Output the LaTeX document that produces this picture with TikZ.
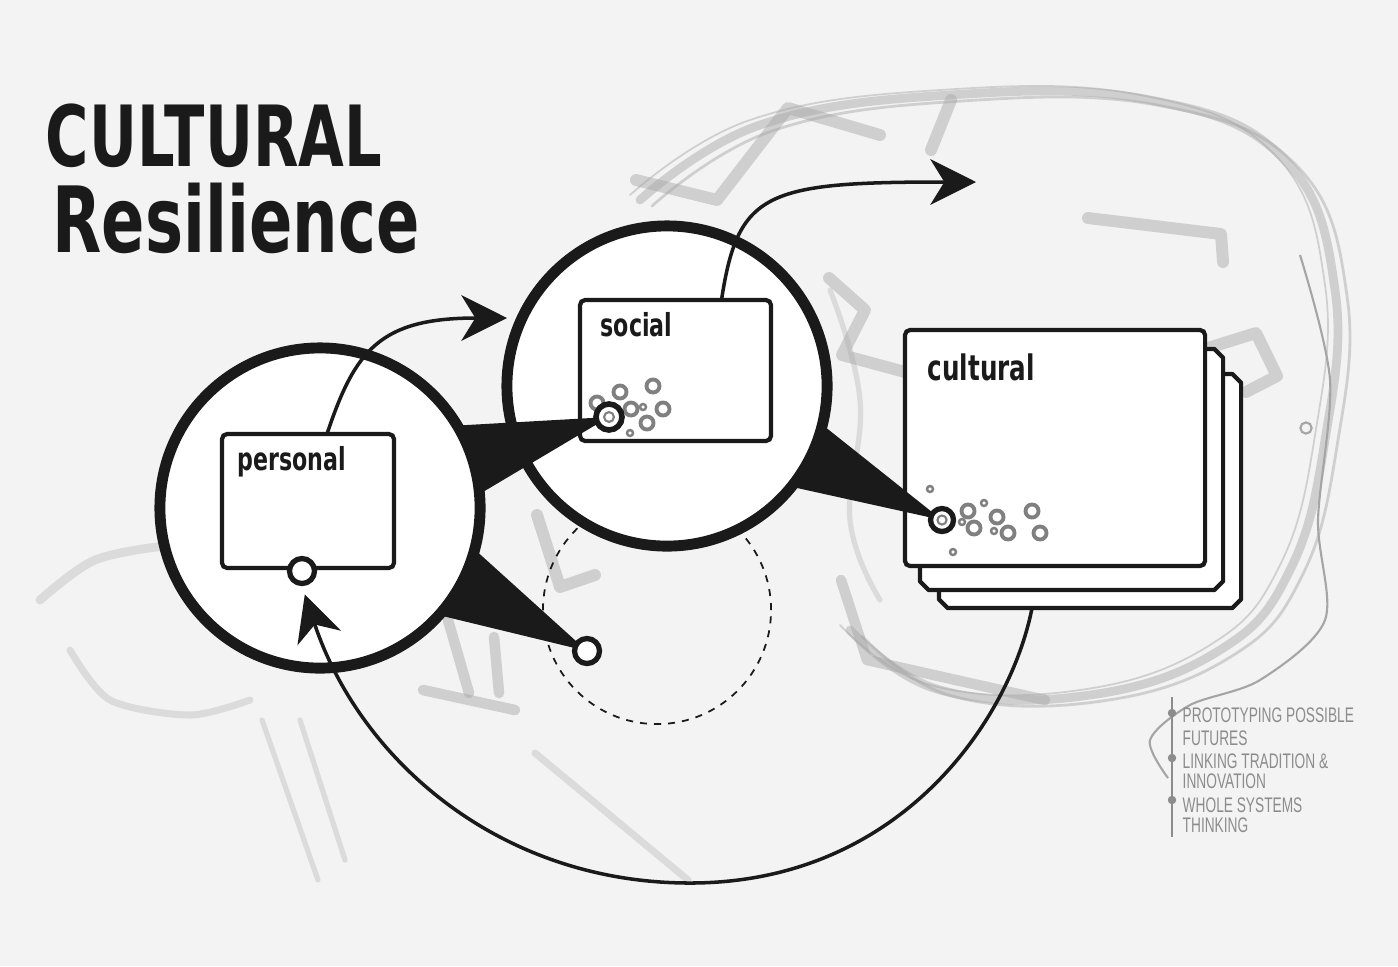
\documentclass[tikz,border=0pt]{standalone}
\usepackage{fontspec}
\usetikzlibrary{arrows.meta,calc}
\newfontfamily\handfont{DejaVu Sans}[FakeStretch=0.7]
\newfontfamily\notefont{Liberation Sans}[FakeStretch=0.65]
\definecolor{paper}{RGB}{243,243,243}
\definecolor{ink}{RGB}{26,26,26}
\definecolor{ringgray}{RGB}{128,128,128}
\definecolor{sketch}{RGB}{165,165,165}
\definecolor{notegray}{RGB}{140,140,140}

\begin{document}
\begin{tikzpicture}[x=0.01cm, y=-0.01cm,
    bigcirc/.style={circle, draw=ink, fill=white, line width=3.1pt, minimum size=3.2cm, inner sep=0pt, outer sep=0pt},
    card/.style={draw=ink, fill=white, line width=1.2pt, rounded corners=1.5pt, inner sep=0pt, outer sep=0pt},
    backcard/.style={rectangle, inner sep=0pt, outer sep=0pt},
    cardlabel/.style={font=\handfont\bfseries\fontsize{9pt}{9pt}\selectfont, text=ink, anchor=base west, inner sep=0pt},
    hole/.style={circle, draw=ink, fill=white, line width=1.5pt, minimum size=0.25cm, inner sep=0pt},
    fatarrow/.style={draw=ink, line width=1pt, -{Stealth[length=13pt, width=13pt, inset=4pt]}},
    sketchline/.style={draw=sketch, line cap=round, line join=round, opacity=0.45},
    notetext/.style={font=\notefont\fontsize{6pt}{6pt}\selectfont, text=notegray, anchor=base west, inner sep=0pt}]
    \fill[paper] (0,0) rectangle (1398,966);
    \useasboundingbox (0,0) rectangle (1398,966);

    % sketch behind
    \foreach \d/\w in {0/2.5pt, 12/0.8pt, -10/0.5pt}
      \draw[sketchline, line width=\w, shift={(\d,\d/2)}] plot[smooth, tension=0.7] coordinates {(640,200) (760,125) (950,95) (1150,100) (1285,160) (1335,290) (1325,440) (1290,570) (1220,650) (1090,695) (940,690) (850,630)};
    \draw[sketchline, line width=1.5pt, opacity=0.3] plot[smooth, tension=0.7] coordinates {(830,290) (860,400) (850,520) (880,600)};
    \draw[sketchline, line width=3.4pt] (636,180) -- (717,200) -- (788,108) -- (880,135);
    \draw[sketchline, line width=3.4pt] (951,100) -- (931,150);
    \draw[sketchline, line width=3.4pt] (1088,218) -- (1221,234) -- (1223,262);
    \draw[sketchline, line width=3.4pt] (829,278) -- (865,310) -- (842,355) -- (905,372);
    \draw[sketchline, line width=3.4pt] (1195,352) -- (1256,333) -- (1277,376) -- (1246,392);
    \draw[sketchline, line width=3.4pt] (537,515) -- (560,587) -- (595,575);
    \draw[sketchline, line width=3pt] (448,620) -- (469,693);
    \draw[sketchline, line width=3pt] (494,637) -- (499,693);
    \draw[sketchline, line width=3pt] (423,690) -- (515,710);
    \draw[sketchline, line width=2pt, opacity=0.3] (535,753) -- (688,880);
    \draw[sketchline, line width=3pt] (841,580) -- (867,660) -- (1045,700);
    \draw[sketchline, line width=2.5pt, opacity=0.3] plot[smooth] coordinates {(40,600) (95,560) (175,545) (240,548)};
    \draw[sketchline, line width=2pt, opacity=0.3] plot[smooth] coordinates {(70,650) (110,700) (190,715) (250,700)};
    \draw[sketchline, line width=1.5pt, opacity=0.3] (262,720) -- (318,880);
    \draw[sketchline, line width=1.5pt, opacity=0.3] (300,720) -- (345,860);
    \draw[sketch, line width=0.6pt] plot[smooth] coordinates {(1300,255) (1330,380) (1318,520) (1325,620) (1260,680) (1190,705) (1150,740) (1168,778)};
    \draw[sketch, line width=0.6pt] (1306,428) circle (1.6pt);

    \draw[ink, line width=0.5pt, dash pattern=on 2pt off 2pt] (657,610) circle (1.14cm);

    % cards
    \node[backcard, minimum width=3.02cm, minimum height=2.34cm] (cbox3) at (1090,491) {};
    \node[backcard, minimum width=3.03cm, minimum height=2.41cm] (cbox2) at (1071.5,469.5) {};
    \foreach \b in {cbox3,cbox2}
      \draw[ink, fill=white, line width=1.2pt, line join=round]
        ([xshift=2.5pt]\b.north west) -- ([xshift=-2.5pt]\b.north east) -- ([yshift=-2.5pt]\b.north east)
        -- ([yshift=2.5pt]\b.south east) -- ([xshift=-2.5pt]\b.south east) -- ([xshift=2.5pt]\b.south west)
        -- ([yshift=2.5pt]\b.south west) -- ([yshift=-2.5pt]\b.north west) -- cycle;
    \node[card, minimum width=3.00cm, minimum height=2.36cm] (cbox1) at (1055,448) {};
    \node[bigcirc] (pcirc) at (320,508) {};
    \node[bigcirc] (scirc) at (667,386) {};
    \node[card, minimum width=1.72cm, minimum height=1.34cm] (pbox) at (308,501) {};
    \node[card, minimum width=1.91cm, minimum height=1.41cm] (sbox) at (675.5,370.5) {};
    \node[cardlabel] (plabel) at (237,470) {personal};
    \node[cardlabel] (slabel) at (600,336) {social};
    \node[cardlabel, font=\handfont\bfseries\fontsize{10pt}{10pt}\selectfont] (clabel) at (927,380) {cultural};

    \foreach \x/\y in {597/403, 620/392, 653/386, 631/409, 663/409, 647/423, 968/511, 974/528, 997/517, 1008/533, 1032/511, 1040/533}
      \draw[ringgray, line width=1.1pt] (\x,\y) circle (1.85pt);
    \foreach \x/\y in {643/407, 630/433, 930/489, 984/503, 962/522, 994/531, 953/552}
      \draw[ringgray, line width=0.7pt] (\x,\y) circle (0.85pt);

    % wedges
    \coordinate (sdotpos) at (609,417);
    \coordinate (cdotpos) at (942,520);
    \coordinate (ldotpos) at (587,651);
    \fill[ink] (pcirc.31) -- (pcirc.5) -- (sdotpos) -- cycle;
    \fill[ink] (pcirc.-15) -- (pcirc.-42) -- (ldotpos) -- cycle;
    \fill[ink] (scirc.-14) -- (scirc.-39) -- (cdotpos) -- cycle;

    \node[hole] (pdot) at (302,571) {};
    \node[hole] (ldot) at (ldotpos) {};
    \node[hole, minimum size=0.26cm, line width=1.6pt] (sdot) at (sdotpos) {};
    \node[hole, minimum size=0.23cm] (cdot) at (cdotpos) {};
    \draw[ringgray, line width=0.6pt] (sdot) circle (1.4pt);
    \draw[ringgray, line width=0.6pt] (cdot) circle (1.3pt);

    % arrows
    \coordinate (a1end) at (507,318);
    \coordinate (a2end) at (976,182);
    \draw[fatarrow] ($(pbox.north)+(19,0)$) .. controls (355,350) and (380,318) .. (a1end);
    \draw[fatarrow] ($(sbox.north)+(46,0)$) .. controls (738,192) and (765,182) .. (a2end);
    \draw[fatarrow, shorten >=2.5pt] ($(cbox3.south)+(-58,0)$) .. controls (1010,720) and (900,883) .. (690,883)
      .. controls (500,883) and (360,760) .. (pdot.south);

    % title and notes
    \node[font=\handfont\bfseries\fontsize{24pt}{24pt}\selectfont, text=ink, anchor=base west, inner sep=0pt] (title1) at (45,166) {CULTURAL};
    \node[font=\handfont\bfseries\fontsize{26pt}{26pt}\selectfont, text=ink, anchor=base west, inner sep=0pt] (title2) at (52,252) {Resilience};
    \draw[notegray, line width=0.7pt] (1172,697) -- (1172,837);
    \foreach \y in {713,758,800}
      \fill[notegray] (1172,\y) circle (1.2pt);
    \foreach \t/\y in {PROTOTYPING POSSIBLE/722, FUTURES/745, LINKING TRADITION \&/768, INNOVATION/788, WHOLE SYSTEMS/812, THINKING/832}
      \node[notetext] (note\y) at (1182,\y) {\t};
  \end{tikzpicture}
\end{document}
